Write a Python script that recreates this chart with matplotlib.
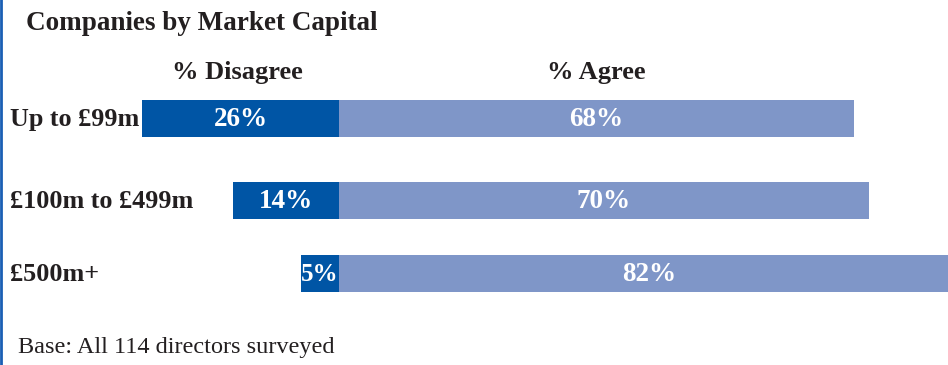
import matplotlib.pyplot as plt
from matplotlib.transforms import blended_transform_factory

# Survey results by company size
categories = ['Up to £99m', '£100m to £499m', '£500m+']
disagree = [26, 14, 5]
agree = [68, 70, 82]

dark_blue = '#0055a5'
light_blue = '#7f96c8'
ink = '#231f20'

W, H = 948, 365
px_per_pct = 7.57
center_px = 339
row_y = [118.5, 200, 273.5]   # row centres in pixels from top
bar_h = 37

plt.rcParams['font.family'] = ['Liberation Serif', 'DejaVu Serif']

fig = plt.figure(figsize=(W / 100, H / 100), dpi=100)
ax = fig.add_axes([0, 0, 1, 1])
ax.set_xlim(-center_px / px_per_pct, (W - center_px) / px_per_pct)
ax.set_ylim(H, 0)
ax.axis('off')

ax.barh(row_y, [-d for d in disagree], height=bar_h, color=dark_blue, lw=0)
ax.barh(row_y, agree, height=bar_h, color=light_blue, lw=0)

for y, d, a in zip(row_y, disagree, agree):
    if d >= 10:
        ax.text(-d / 2, y + 1, f'{d}%', color='white', fontsize=19.5,
                fontweight='bold', ha='center', va='center')
    else:
        ax.text(0, y + 1, f'{d}%', color='white', fontsize=18,
                fontweight='bold', ha='right', va='center')
    ax.text(a / 2, y + 1, f'{a}%', color='white', fontsize=19.5,
            fontweight='bold', ha='center', va='center')

# category labels on the left
tr = blended_transform_factory(fig.transFigure, ax.transData)
for y, c in zip(row_y, categories):
    ax.text(10 / W, y + 1, c, transform=tr, fontsize=18.8, fontweight='bold',
            color=ink, ha='left', va='center')

# column headers
ax.text(-26 / 2 - 0.4, 72, '% Disagree', fontsize=19, fontweight='bold',
        color=ink, ha='center', va='center')
ax.text(68 / 2, 72, '% Agree', fontsize=19, fontweight='bold',
        color=ink, ha='center', va='center')

fig.text(26 / W, 1 - 23 / H, 'Companies by Market Capital', fontsize=19.5,
         fontweight='bold', color=ink, ha='left', va='center')
fig.text(18 / W, 1 - 348 / H, 'Base: All 114 directors surveyed', fontsize=17.5,
         color=ink, ha='left', va='center')

# thin blue rule down the left edge
fig.add_artist(plt.Line2D([0.001, 0.001], [0, 1], transform=fig.transFigure,
                          color='#1a5fb4', lw=2))

fig.savefig('out.png', dpi=100)
